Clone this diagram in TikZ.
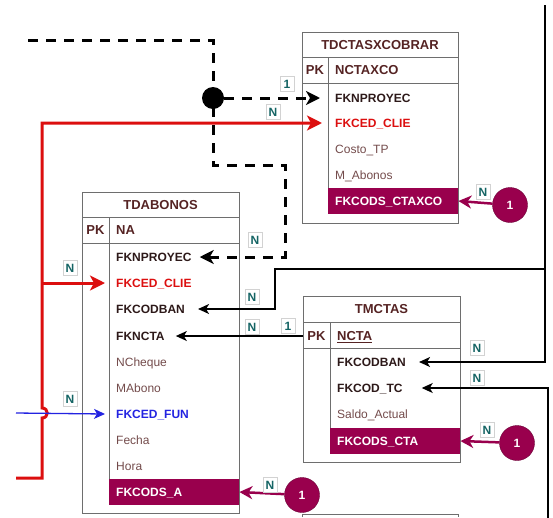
\documentclass[tikz,border=0pt]{standalone}
\usepackage{fontspec}
\setmainfont{Liberation Sans}
\usepackage{xcolor}
\usepackage{tikz}
\usetikzlibrary{arrows.meta}
\definecolor{tbrown}{RGB}{85,35,35}
\definecolor{tdark}{RGB}{45,25,25}
\definecolor{tlight}{RGB}{115,75,75}
\definecolor{fkred}{RGB}{220,15,15}
\definecolor{fkblue}{RGB}{35,35,225}
\definecolor{berry}{RGB}{153,0,77}
\definecolor{lblteal}{RGB}{20,100,100}
\definecolor{tblgray}{RGB}{110,110,110}

\begin{document}
\begin{tikzpicture}[x=1pt,y=-1pt,
  tbl/.style={draw=tblgray,line width=0.9pt},
  ttl/.style={font=\fontsize{13}{15}\selectfont\bfseries,text=tbrown,inner sep=0pt,text height=9.3pt,text depth=0pt},
  hdr/.style={ttl,anchor=west},
  pkcell/.style={ttl,minimum width=26pt},
  fld/.style={font=\fontsize{12}{14}\selectfont\bfseries,text=tdark,anchor=west,inner sep=0pt,text height=8.6pt,text depth=0pt},
  attr/.style={font=\fontsize{12}{14}\selectfont,text=tlight,anchor=west,inner sep=0pt,text height=8.6pt,text depth=0pt},
  hlrow/.style={fill=berry,text=white,font=\fontsize{12}{14}\selectfont\bfseries,anchor=west,minimum height=26pt,text width=116pt,inner xsep=7pt,inner ysep=0pt,text height=8.6pt,text depth=0pt,align=left},
  onecirc/.style={circle,fill=berry,draw=berry!70!black,minimum size=35pt,inner sep=0pt,text=white,font=\fontsize{12}{14}\selectfont\bfseries},
  card/.style={draw=gray!35,fill=white,text=lblteal,font=\fontsize{12}{14}\selectfont\bfseries,inner sep=1pt,minimum width=14pt,minimum height=15pt},
  hubdot/.style={circle,fill=black,minimum size=22pt,inner sep=0pt},
  berryarr/.style={draw=berry,line width=2.5pt,-{Stealth[length=13pt,width=13pt,inset=4pt]}},
  redarr/.style={draw=fkred,line width=3pt,-{Stealth[length=15pt,width=15pt,inset=4pt]}},
  dasharr/.style={draw=black,line width=3pt,dash pattern=on 10pt off 8pt,-{Stealth[length=14pt,width=14pt,inset=4pt]}},
  thinarr/.style={draw=black,line width=1.2pt,-{Stealth[length=11pt,width=10pt,inset=3pt]}},
  bluearr/.style={draw=fkblue,line width=1.3pt,-{Stealth[length=11pt,width=10pt,inset=3pt]}}]
  \useasboundingbox (0,0) rectangle (553,517);

  \draw[tbl] (302,32) rectangle (458,223);
  \draw[tbl] (302,57) -- (458,57) (302,83) -- (458,83) (328,57) -- (328,214);
  \node[ttl] (cxc) at (380,45) {TDCTASXCOBRAR};
  \node[pkcell] (cxc_pk) at (315,70) {PK};
  \node[hdr] (cxc_id) at (335,70) {NCTAXCO};
  \node[fld] (cxc_proyec) at (335,98) {FKNPROYEC};
  \node[fld,text=fkred] (cxc_cled) at (335,123) {FKCED\_CLIE};
  \node[attr] (cxc_costo) at (335,149) {Costo\_TP};
  \node[attr] (cxc_mab) at (335,175) {M\_Abonos};
  \node[hlrow] (cxc_fk) at (328,201) {FKCODS\_CTAXCO};

  \draw[tbl] (82,192) rectangle (239,513);
  \draw[tbl] (82,217) -- (239,217) (82,243) -- (239,243) (109,217) -- (109,505);
  \node[ttl] (ab) at (160.5,205) {TDABONOS};
  \node[pkcell] (ab_pk) at (95.5,230) {PK};
  \node[hdr] (ab_id) at (116,230) {NA};
  \node[fld] (ab_proyec) at (116,257) {FKNPROYEC};
  \node[fld,text=fkred] (ab_cled) at (116,283) {FKCED\_CLIE};
  \node[fld] (ab_codban) at (116,309) {FKCODBAN};
  \node[fld] (ab_ncta) at (116,336) {FKNCTA};
  \node[attr] (ab_cheque) at (116,362) {NCheque};
  \node[attr] (ab_monto) at (116,388) {MAbono};
  \node[fld,text=fkblue] (ab_fun) at (116,414) {FKCED\_FUN};
  \node[attr] (ab_fecha) at (116,440) {Fecha};
  \node[attr] (ab_hora) at (116,466) {Hora};
  \node[hlrow] (ab_fk) at (109,492) {FKCODS\_A};

  \draw[tbl] (303,296) rectangle (460,462);
  \draw[tbl] (303,322) -- (460,322) (303,348) -- (460,348) (330,322) -- (330,454);
  \node[ttl] (mc) at (381.5,309) {TMCTAS};
  \node[pkcell,minimum width=27pt] (mc_pk) at (316.5,336) {PK};
  \node[hdr] (mc_id) at (337,336) {\underline{NCTA}};
  \node[fld] (mc_codban) at (337,362) {FKCODBAN};
  \node[fld] (mc_tc) at (337,388) {FKCOD\_TC};
  \node[attr] (mc_saldo) at (337,414) {Saldo\_Actual};
  \node[hlrow] (mc_fk) at (330,441) {FKCODS\_CTA};

  \draw[tbl] (302,517) -- (302,514) -- (458,514) -- (458,517);

  \coordinate (dashsrc) at (28,40);
  \coordinate (redsrc) at (16,478);
  \coordinate (bluesrc) at (16,413);
  \coordinate (codsrc) at (545,5);
  \coordinate (codjoin) at (545,269);
  \coordinate (tcsrc) at (548,520);

  \node[hubdot] (hub) at (213,98) {};
  \draw[dasharr] (dashsrc) -- (213,40) -- (hub.center) -- (213,165) -- (285,165) |- ([xshift=8pt]ab_proyec.east);
  \draw[dasharr] (hub) -- ([xshift=-15pt]cxc_proyec.west);

  \draw[redarr] (redsrc) -- (42,478) -- (42,418) to[out=0,in=0,looseness=1.8] (42,408) -- (42,123) -- ([xshift=-13pt]cxc_cled.west);
  \draw[redarr] (42,283) -- ([xshift=-11pt]ab_cled.west);
  \draw[bluearr] (bluesrc) -- ([xshift=-11pt]ab_fun.west);

  \draw[thinarr] (codsrc) |- ([xshift=13pt]mc_codban.east);
  \draw[thinarr] (codjoin) -- (275,269) |- ([xshift=13pt]ab_codban.east);
  \draw[thinarr] (tcsrc) |- ([xshift=19pt]mc_tc.east);
  \draw[thinarr] (mc_pk.west) -- ([xshift=11pt]ab_ncta.east);

  \node[onecirc] (cxc_one) at (510,205) {1};
  \node[onecirc] (mc_one) at (517,443) {1};
  \node[onecirc] (ab_one) at (302,495) {1};
  \draw[berryarr] (cxc_one) -- (cxc_fk.east);
  \draw[berryarr] (mc_one) -- (mc_fk.east);
  \draw[berryarr] (ab_one) -- (ab_fk.east);

  \node[card] (c1) at (287,84) {1};
  \node[card] (c2) at (273,112) {N};
  \node[card] (c3) at (483,192) {N};
  \node[card] (c4) at (255,240) {N};
  \node[card] (c5) at (70,268) {N};
  \node[card] (c6) at (252,297) {N};
  \node[card] (c7) at (252,327) {N};
  \node[card] (c8) at (288,326) {1};
  \node[card] (c9) at (70,399) {N};
  \node[card] (c10) at (270,485) {N};
  \node[card] (c11) at (477,348) {N};
  \node[card] (c12) at (477,378) {N};
  \node[card] (c13) at (487,430) {N};
\end{tikzpicture}
\end{document}
